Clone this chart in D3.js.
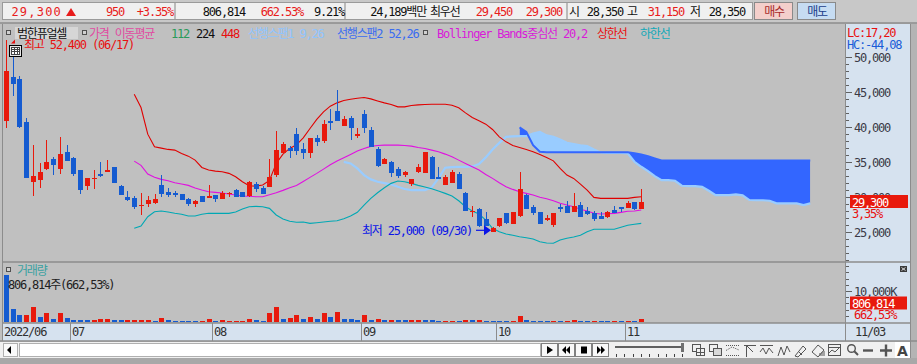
<!DOCTYPE html>
<html><head><meta charset="utf-8">
<script src="https://cdn.jsdelivr.net/npm/d3@7"></script>
<style>
html,body{margin:0;padding:0;background:#c0c0c0;overflow:hidden}
svg{display:block}
text{font-family:'DejaVu Sans Mono','Noto Sans CJK KR',monospace;font-size:12px;letter-spacing:-1.2px}
</style></head><body>
<svg id="c" width="917" height="364"></svg>
<script>
// ---------------- DATA ----------------
const stockName = "범한퓨얼셀";
const dates = ["06/17","06/20","06/21","06/22","06/23","06/24","06/27","06/28","06/29","06/30",
"07/01","07/04","07/05","07/06","07/07","07/08","07/11","07/12","07/13","07/14","07/15","07/18","07/19","07/20","07/21","07/22","07/25","07/26","07/27","07/28","07/29",
"08/01","08/02","08/03","08/04","08/05","08/08","08/09","08/10","08/11","08/12","08/16","08/17","08/18","08/19","08/22","08/23","08/24","08/25","08/26","08/29","08/30","08/31",
"09/01","09/02","09/05","09/06","09/07","09/08","09/13","09/14","09/15","09/16","09/19","09/20","09/21","09/22","09/23","09/26","09/27","09/28","09/29","09/30",
"10/04","10/05","10/06","10/07","10/11","10/12","10/13","10/14","10/17","10/18","10/19","10/20","10/21","10/24","10/25","10/26","10/27","10/28","10/31",
"11/01","11/02","11/03"];
const monthLabels = ["2022/06","07","08","09","10","11"];

const openP = [40900,47200,46870,40730,32220,32460,34030,35460,34030,36450,
35600,33880,31650,32560,33320,33600,34320,31650,30080,29890,
28790,29080,29220,31750,30750,30650,30460,29750,29080,30180,
29940,30360,29790,30560,31000,30750,30180,31890,31360,31500,
33170,36360,37030,39020,36930,36360,38410,38070,40920,42350,
40210,41400,38740,41880,39590,36840,34790,35070,34070,33170,
31890,33560,33500,35700,32850,31790,32080,33320,30650,28000,
28320,26850,25000,25900,27710,26180,27370,30320,28650,27940,
26750,26040,28650,28750,27940,28890,28040,27710,27330,27140,
28180,28560,28470,29320,28350];
const highP = [52400,50000,47340,41350,37450,34930,38160,35740,38590,37450,
35780,33880,32750,33880,35030,35310,34320,31800,30890,30180,
30610,30220,30460,33170,31320,30890,30460,29940,29610,30180,
31750,30360,30850,30750,31220,30750,32280,32180,31600,35500,
39450,37880,37310,39830,37690,38410,38880,41020,42550,45300,
41590,41590,39830,42450,40060,37120,35550,35210,34270,33750,
32600,34740,36450,35930,34270,33130,33890,33560,30790,28790,
28420,27940,25800,27080,27800,27850,33560,30460,28890,27940,
27470,27800,29040,29470,30650,29320,28610,28040,27850,28040,
28750,28650,29470,29320,31150];
const lowP = [39900,44440,39920,32790,30220,31360,33890,33170,33320,35210,
33030,30510,31080,31220,32930,33600,32080,30360,29510,28370,
27510,28650,29080,30080,30040,30080,29560,28790,28650,29370,
29940,29370,29790,30080,30080,30080,30080,30710,30510,31500,
32930,36130,35640,36070,35410,35550,37310,37780,39590,40920,
40210,38170,38410,39210,37120,34360,34700,32850,32700,32850,
31600,33420,33500,32650,32560,31700,32080,31220,28040,27230,
25800,25900,25000,25800,26140,26180,27230,28320,27470,26180,
26660,25800,27940,27800,27940,27230,27510,26660,26940,27040,
27710,27940,28470,28180,28350];
const closeP = [48000,46150,40060,32790,33030,33600,35030,34640,36170,35210,
33320,31080,32750,32790,33030,33930,32080,30360,29650,28650,
28940,29610,29750,30510,30360,30360,29560,29040,29510,29370,
30140,29750,30560,30650,30080,30080,32180,31220,30510,32930,
36740,37600,36600,36560,36360,38410,37930,40450,40630,40920,
41120,39920,39020,39840,37210,34460,35460,33500,33070,33560,
32600,34270,36450,32650,32560,32930,33560,31220,28040,28100,
25940,25900,25650,27000,26280,27850,31180,28320,27800,26180,
27080,27800,28370,27800,28750,27230,27610,26940,26940,27850,
27710,28370,29220,28350,29300];

const volume = [15060000,4190000,2260000,2290000,4840000,1610000,2900000,970000,2900000,1290000,
650000,640000,620000,660000,960000,980000,650000,630000,650000,660000,
670000,680000,330000,1300000,640000,320000,310000,300000,290000,340000,
960000,330000,640000,330000,340000,350000,960000,640000,320000,2900000,
4840000,970000,1290000,2260000,970000,1610000,970000,2900000,1610000,3230000,
970000,960000,640000,2260000,640000,970000,640000,650000,640000,630000,
650000,660000,650000,640000,320000,330000,340000,330000,640000,630000,
650000,320000,310000,300000,290000,310000,1940000,640000,320000,310000,
300000,310000,300000,310000,640000,320000,310000,320000,310000,300000,
310000,300000,310000,121780,806814];
const volumeUp = [0,0,0,1,1,0,1,0,1,0, 0,0,0,1,1,1,0,0,1,1, 1,1,0,1,0,0,0,0,0,1,
1,0,1,1,1,1,1,0,0,1, 1,0,1,1,0,1,0,1,0,1, 0,0,0,1,0,1,0,1,0,0,
1,1,0,0,0,1,1,0,1,0, 1,0,0,0,0,1,1,0,0,0, 0,1,0,1,1,0,0,1,0,0, 1,0,1,0,1];

const bbStart = 19;
const bbUpper = [44730,42830,39020,37210,37030,36840,36740,36270,35880,35310,
34270,33890,33740,33640,33420,32930,32220,31650,31600,31750,
32400,34840,36170,36980,37500,38500,39830,41120,42200,43020,
43490,43830,44010,44160,44260,44060,43770,43490,43260,42920,
42920,43120,43210,43260,43300,43300,43300,43160,42780,42060,
41400,40920,40450,39690,38640,37920,37410,37120,36840,36500,
36130,35700,35210,34130,33170,32700,31890,31030,29990,29850,
29850,29850,29850,29850,29990,30080];
const bbMiddle = [35170,34560,33320,32850,32560,32360,32080,31890,31700,31320,
31030,30790,30710,30610,30460,30320,30180,30140,30080,30080,
30360,30650,30990,31360,31700,32270,32850,33420,34030,34640,
35170,35640,36130,36600,36980,37270,37410,37450,37450,37450,
37410,37310,37120,36980,36740,36500,36170,35780,35310,34840,
34360,33890,33270,32700,32080,31500,31130,30790,30560,30320,
30000,29800,29500,29140,28890,28650,28280,28040,27710,27610,
27650,27710,27850,28000,28040,28180];
const bbLower = [25570,25900,27230,27940,28040,27900,27710,27570,27330,27330,
27570,27710,27710,27710,27710,27900,28320,28650,28700,28650,
28420,27470,26900,26570,26430,26470,26280,26370,26470,26570,
26660,26940,27330,27850,28890,29850,30650,31360,31990,32320,
32220,31990,31700,31460,31220,30890,30560,30180,29510,28650,
28040,27610,26750,25570,25090,24760,24570,24370,24230,24040,
23660,23480,23430,23900,24140,24330,24570,25090,25430,25430,
25430,25430,25710,26000,26140,26280];

const span1Start = 50;
const span1 = [35070,34840,34130,33170,32560,32220,32030,31850,31500,31180,
31030,31030,31030,31420,32700,34220,34320,34360,34360,34410,
34740,35700,36840,37780,38640,38690,38740,38740,39120,39330,
38840,38640,38270,37780,37600,37410,37310,36840,36410,36360,
36360,36360,36270,35070,34360,33740,33030,32460,32460,32360,
31650,31600,31600,31500,30930,30320,30320,30320,30420,30280,
29610,29580,29580,29510,29140,29140,29140,29140,28890,29140];
const span2Start = 76;
const span2 = [39980,39350,37450,36500,36450,36450,36450,36450,36450,36450,
36450,36450,36450,36450,36450,36450,36450,36300,36130,35880,
35560,35250,35250,35250,35250,35250,35250,35250,35250,35250,
35250,35250,35250,35250,35250,35250,35250,35250,35250,35250,
35250,35250,35250,35250];

const priceTicks = [50000,45000,40000,35000,30000,25000];
const volumeTicks = [10000000];
const legendItems = [
  {t:"가격 이동평균", c:"#e04aa0", x:89},
  {t:"112", c:"#2a9a5a", x:171},
  {t:"224", c:"#101010", x:196},
  {t:"448", c:"#e81010", x:221},
  {t:"선행스팬1 9,26", c:"#8fc4ff", x:248},
  {t:"선행스팬2 52,26", c:"#3a6cf0", x:337},
  {t:"Bollinger Bands중심선 20,2", c:"#d81ad8", x:437},
  {t:"상한선", c:"#e81010", x:597},
  {t:"하한선", c:"#10a8b8", x:640}
];
const lcText = "LC:17,20", hcText = "HC:-44,08";
const volPctText = "662,53%";
const quoteExtra = {volPct:"662.53%", turnover:"9.21%", amount:"24,189백만", ask:"29,450", bid:"29,300"};

(function draw() {
// ---------------- SETUP ----------------
const RED = "#e8190c", BLUE = "#155bd0";
const svg = d3.select("#c");
const n = dates.length;
const x = d3.scaleLinear().domain([0, n - 1]).range([5.8, 5.8 + (n - 1) * 6.76]);
const y = d3.scaleLinear().domain([25000, 45000]).range([232.3, 92.3]);
const yv = d3.scaleLinear().domain([0, 10000000]).range([322, 291]);
const fmt = d3.format(",");
const cxOf = i => Math.round(x(i));

const PL = 2, PR = 845, PT = 24, PB = 262, VB = 323, XB = 341;

svg.append("rect").attr("x",0).attr("y",0).attr("width",917).attr("height",364).attr("fill","#c0c0c0");
svg.append("rect").attr("x",PR).attr("y",PT).attr("width",910-PR).attr("height",VB-PT).attr("fill","#d6e2ef");
svg.append("rect").attr("x",PL).attr("y",VB).attr("width",910-PL).attr("height",XB-VB).attr("fill","#d6e2ef");
svg.append("rect").attr("x",910).attr("y",PT).attr("width",7).attr("height",340).attr("fill","#b4b4b4");

// top bar
const bar = svg.append("g");
bar.append("rect").attr("x",0).attr("y",0).attr("width",917).attr("height",23).attr("fill","#c8c8c8");
bar.append("rect").attr("x",2.5).attr("y",2.5).attr("width",750).attr("height",17).attr("fill","#f0f0f0").attr("stroke","#9a9a9a");
[175,345,567].forEach(v => bar.append("line").attr("x1",v).attr("x2",v).attr("y1",3).attr("y2",19).attr("stroke","#a8a8a8").attr("stroke-width",1.5));
bar.append("rect").attr("x",754.5).attr("y",2.5).attr("width",38).attr("height",17).attr("fill","#f4cfcb").attr("stroke","#8a8a8a");
bar.append("rect").attr("x",797.5).attr("y",2.5).attr("width",38).attr("height",17).attr("fill","#c6dcf2").attr("stroke","#8a8a8a");
bar.append("line").attr("x1",0).attr("x2",917).attr("y1",23).attr("y2",23).attr("stroke","#8c8c8c").attr("stroke-width",1.5);

const last = n - 1;
const chg = closeP[last] - closeP[last - 1];
const pct = chg / closeP[last - 1] * 100;
function tt(g, txt, xx, yy, col, anchor, extra) {
  const t = g.append("text").attr("x",xx).attr("y",yy).attr("fill",col).attr("text-anchor",anchor||"start").text(txt);
  if (extra) extra(t);
  return t;
}
const TB = 15.5;
tt(bar, fmt(closeP[last]), 62, TB, "#e81c1c", "end", t => t.style("letter-spacing","1.2px"));
bar.append("path").attr("d","M66,16 L76,16 L71,8 Z").attr("fill","#e81c1c");
tt(bar, fmt(chg), 124, TB, "#e81c1c", "end");
tt(bar, "+" + pct.toFixed(2) + "%", 173, TB, "#e81c1c", "end");
tt(bar, fmt(volume[last]), 245, TB, "#101010", "end");
tt(bar, quoteExtra.volPct, 303, TB, "#e81c1c", "end");
tt(bar, quoteExtra.turnover, 344, TB, "#101010", "end");
tt(bar, quoteExtra.amount, 426, TB, "#101010", "end");
tt(bar, "최우선", 430, TB, "#101010");
tt(bar, quoteExtra.ask, 512, TB, "#e81c1c", "end");
tt(bar, quoteExtra.bid, 562, TB, "#e81c1c", "end");
tt(bar, "시", 569, TB, "#101010");
tt(bar, fmt(openP[last]), 623, TB, "#101010", "end");
tt(bar, "고", 627, TB, "#101010");
tt(bar, fmt(highP[last]), 684, TB, "#e81c1c", "end");
tt(bar, "저", 690, TB, "#101010");
tt(bar, fmt(lowP[last]), 745, TB, "#101010", "end");
tt(bar, "매수", 774, TB, "#a82a2a", "middle");
tt(bar, "매도", 817, TB, "#203c8a", "middle");

// frames
const fr = svg.append("g").attr("stroke","#8c8c8c").attr("fill","none");
fr.append("line").attr("x1",PL+0.5).attr("x2",PL+0.5).attr("y1",PT).attr("y2",XB);
fr.append("line").attr("x1",PR+0.5).attr("x2",PR+0.5).attr("y1",PT).attr("y2",XB);
fr.append("line").attr("x1",910.5).attr("x2",910.5).attr("y1",PT).attr("y2",358);
fr.append("line").attr("x1",PL).attr("x2",911).attr("y1",PB).attr("y2",PB).attr("stroke-width",1.5);
fr.append("line").attr("x1",PL).attr("x2",911).attr("y1",VB).attr("y2",VB).attr("stroke-width",1.5);
fr.append("line").attr("x1",0).attr("x2",917).attr("y1",XB).attr("y2",XB).attr("stroke-width",1.5);

const defs = svg.append("defs");
defs.append("clipPath").attr("id","plot").append("rect").attr("x",PL+1).attr("y",PT).attr("width",PR-PL-1).attr("height",PB-PT);
const plot = svg.append("g").attr("clip-path","url(#plot)");

// ---------------- ICHIMOKU CLOUD ----------------
const cloud = span2.map((v,k) => ({i: span2Start + k, a: span1[span2Start + k - span1Start], b: v}));
defs.append("clipPath").attr("id","abv").append("path")
  .attr("d", d3.area().x(d => x(d.i)).y0(PT).y1(d => y(d.b))(cloud));
defs.append("clipPath").attr("id","blw").append("path")
  .attr("d", d3.area().x(d => x(d.i)).y0(PB).y1(d => y(d.b))(cloud));
const between = d3.area().x(d => x(d.i)).y0(d => y(d.b)).y1(d => y(d.a));
plot.append("g").attr("clip-path","url(#abv)").append("path").attr("d", between(cloud)).attr("fill","#99ccff");
plot.append("g").attr("clip-path","url(#blw)").append("path").attr("d", between(cloud)).attr("fill","#3366ff");
const ln = d3.line().x(d => x(d.i)).y(d => y(d.v));
plot.append("path").attr("d", ln(span1.map((v,k)=>({i:span1Start+k, v}))))
  .attr("fill","none").attr("stroke","#99ccff").attr("stroke-width",2.2);
plot.append("path").attr("d", ln(span2.map((v,k)=>({i:span2Start+k, v}))))
  .attr("fill","none").attr("stroke","#3366ff").attr("stroke-width",2);

// ---------------- BOLLINGER ----------------
[[bbUpper,"#e00000"],[bbMiddle,"#e010e0"],[bbLower,"#00a8b4"]].forEach(([arr,col]) => {
  plot.append("path").attr("d", ln(arr.map((v,k)=>({i:bbStart+k, v}))))
    .attr("fill","none").attr("stroke",col).attr("stroke-width",1.1);
});

// ---------------- CANDLES ----------------
const cg = plot.append("g").attr("shape-rendering","crispEdges");
dates.forEach((d,i) => {
  const col = closeP[i] >= openP[i] ? RED : BLUE;
  const cx = cxOf(i);
  const yh = Math.round(y(highP[i])), yl = Math.round(y(lowP[i]));
  cg.append("rect").attr("x",cx).attr("y",yh).attr("width",1).attr("height",Math.max(1,yl-yh)).attr("fill",col);
  const t = Math.round(y(Math.max(openP[i],closeP[i]))), b = Math.round(y(Math.min(openP[i],closeP[i])));
  cg.append("rect").attr("x",cx-2).attr("y",t).attr("width",5).attr("height",Math.max(1,b-t)).attr("fill",col);
});

// ---------------- ANNOTATIONS ----------------
const iMax = d3.maxIndex(highP), iMin = d3.minIndex(lowP);
const mx = cxOf(iMax), my = y(highP[iMax]);
svg.append("path").attr("d",`M${mx+5},${my+3} L${mx+9},${my-1} L${mx+9},${my+3} Z`).attr("fill","#e81010");
tt(svg, "최고 " + fmt(highP[iMax]) + " (" + dates[iMax] + ")", 24, 48.5, "#e81010");
const ic = svg.append("g").attr("shape-rendering","crispEdges");
ic.append("rect").attr("x",9.5).attr("y",45.5).attr("width",12).attr("height",11).attr("fill","#e8e8e8").attr("stroke","#000");
ic.append("rect").attr("x",11.5).attr("y",47.5).attr("width",8).attr("height",7).attr("fill","#fff").attr("stroke","#444");
[14.5,17.5].forEach(v=>ic.append("line").attr("x1",v).attr("x2",v).attr("y1",48).attr("y2",54).attr("stroke","#444"));
[49.5,51.5].forEach(v=>ic.append("line").attr("x1",12).attr("x2",19).attr("y1",v).attr("y2",v).attr("stroke","#444"));

const nx = cxOf(iMin) - 2, ny = y(lowP[iMin]) - 2;
svg.append("line").attr("x1",nx-15).attr("x2",nx-5).attr("y1",ny).attr("y2",ny).attr("stroke","#0a14e6").attr("stroke-width",1.2);
svg.append("path").attr("d",`M${nx},${ny} L${nx-7},${ny-5} L${nx-7},${ny+5} Z`).attr("fill","#0a14e6");
tt(svg, "최저 " + fmt(lowP[iMin]) + " (" + dates[iMin] + ")", nx-19, ny+4.5, "#0a14e6", "end");

// ---------------- LEGEND ----------------
function sq(xx, yy) {
  svg.append("rect").attr("x",xx+0.5).attr("y",yy+0.5).attr("width",4).attr("height",4)
    .attr("fill","#d0d0d0").attr("stroke","#505050").attr("shape-rendering","crispEdges");
}
sq(6,30); sq(82,30); sq(423,30);
svg.append("rect").attr("x",15).attr("y",27).attr("width",63).attr("height",12).attr("fill","#d6d6d6");
tt(svg, stockName, 17, 37.5, "#101010");
legendItems.forEach(d => tt(svg, d.t, d.x, 37.5, d.c));

// ---------------- PRICE AXIS ----------------
const ax = svg.append("g").attr("shape-rendering","crispEdges");
d3.range(21000, 50001, 1000).forEach(v => {
  const yy = Math.round(y(v)) + 0.5;
  const major = v % 5000 === 0;
  ax.append("line").attr("x1",846).attr("x2",major?852:849).attr("y1",yy).attr("y2",yy).attr("stroke","#606060");
});
priceTicks.forEach(v => tt(svg, fmt(v), 854, y(v) + 4.5, "#3a3a46"));
tt(svg, lcText, 847, 36.5, "#e81010");
tt(svg, hcText, 847, 49, "#1a5cd8");
const pc = y(closeP[last]);
svg.append("rect").attr("x",850).attr("y",Math.round(pc)-7).attr("width",58).attr("height",13).attr("fill","#e8190c");
tt(svg, fmt(closeP[last]), 852, pc + 4.5, "#ffffff");
tt(svg, pct.toFixed(2).replace(".", ",") + "%", 852, pc + 16, "#e81010");

// ---------------- VOLUME ----------------
const vg = svg.append("g").attr("shape-rendering","crispEdges");
volume.forEach((v,i) => {
  const cx = cxOf(i);
  const t = Math.round(yv(v));
  const h = Math.max(1, 322 - t);
  vg.append("rect").attr("x",cx-2).attr("y",322-h).attr("width",5).attr("height",h).attr("fill", volumeUp[i] ? RED : BLUE);
});
sq(6,267);
tt(svg, "거래량", 17, 274.5, "#3aa0a0");
tt(svg, fmt(volume[last]) + "주(" + volPctText + ")", 8, 288.5, "#202020");
d3.range(2000000, 18000001, 2000000).forEach(v => {
  const yy = Math.round(yv(v)) + 0.5;
  const major = volumeTicks.includes(v);
  ax.append("line").attr("x1",846).attr("x2",major?852:849).attr("y1",yy).attr("y2",yy).attr("stroke","#606060");
});
volumeTicks.forEach(v => tt(svg, fmt(v/1000) + "K", 854, yv(v) + 4.5, "#3a3a46"));
const vc = yv(volume[last]) - 16;
svg.append("rect").attr("x",850).attr("y",Math.round(vc)-6.5).attr("width",57).attr("height",13).attr("fill","#e8190c");
tt(svg, fmt(volume[last]), 852, vc + 4.5, "#ffffff");
tt(svg, volPctText, 854, vc + 16, "#e81010");
svg.append("rect").attr("x",900).attr("y",266).attr("width",7).attr("height",6).attr("fill","#3a3a3a");
svg.append("path").attr("d","M901.5,267.5 L905.5,270.5 M905.5,267.5 L901.5,270.5").attr("stroke","#fff").attr("stroke-width",0.8);

// ---------------- X AXIS ----------------
const monthStarts = [];
dates.forEach((d,i) => { if (i === 0 || d.slice(0,2) !== dates[i-1].slice(0,2)) monthStarts.push(i); });
monthStarts.forEach((i,k) => {
  if (k === 0) { tt(svg, monthLabels[k], 4, 336, "#303030"); return; }
  const dx = cxOf(i) - 3 + 0.5;
  svg.append("line").attr("x1",dx).attr("x2",dx).attr("y1",VB).attr("y2",XB).attr("stroke","#8c8c8c").attr("shape-rendering","crispEdges");
  tt(svg, monthLabels[k], dx + 1.5, 336, "#303030");
});
tt(svg, dates[last], 855, 336, "#303030");

// ---------------- TOOLBAR ----------------
const tb = svg.append("g").attr("shape-rendering","crispEdges");
tb.append("rect").attr("x",0).attr("y",342).attr("width",910).attr("height",16).attr("fill","#f0f0f0");
tb.append("rect").attr("x",0).attr("y",358).attr("width",917).attr("height",6).attr("fill","#a8a8a8");
tb.append("rect").attr("x",3.5).attr("y",343.5).attr("width",14).attr("height",13).attr("fill","#fafafa").attr("stroke","#b0b0b0");
tb.append("path").attr("d","M7,350 L11,346 L11,354 Z").attr("fill","#000").attr("shape-rendering","auto");
tb.append("rect").attr("x",19.5).attr("y",343.5).attr("width",521).attr("height",13).attr("fill","#ffffff").attr("stroke","#b0b0b0");
[541.5,558.5,575.5,592.5].forEach(v => tb.append("rect").attr("x",v).attr("y",343.5).attr("width",16).attr("height",13).attr("fill","#f8f8f8").attr("stroke","#808080"));
const sym = svg.append("g").attr("fill","#000");
sym.append("path").attr("d","M547,346 L553,350 L547,354 Z");
sym.append("path").attr("d","M566,346 L562,350 L566,354 Z M570,346 L566,350 L570,354 Z");
sym.append("rect").attr("x",581).attr("y",346.5).attr("width",6).attr("height",7);
sym.append("path").attr("d","M597,346 L601,350 L597,354 Z M601,346 L605,350 L601,354 Z");
tb.append("rect").attr("x",615).attr("y",346).attr("width",67).attr("height",2).attr("fill","#606060");
tb.append("rect").attr("x",681).attr("y",343).attr("width",3).attr("height",9).attr("fill","#707070");
d3.range(0,9).forEach(k => tb.append("rect").attr("x",616 + k*8.3).attr("y",354).attr("width",1).attr("height",3).attr("fill","#404040"));
const ig = svg.append("g").attr("stroke","#555").attr("fill","none").attr("stroke-width",1);
ig.append("rect").attr("x",692.5).attr("y",344.5).attr("width",8).attr("height",7);
ig.append("rect").attr("x",696.5).attr("y",348.5).attr("width",8).attr("height",7).attr("fill","#f0f0f0");
ig.append("path").attr("d","M700.5,349 V355 M697,352.5 H704");
ig.append("rect").attr("x",709.5).attr("y",344.5).attr("width",8).attr("height",7);
ig.append("rect").attr("x",713.5).attr("y",348.5).attr("width",8).attr("height",7).attr("fill","#d8d8d8");
ig.append("path").attr("d","M726,345.5 H739 M726,350.5 L732,347 L739,350 M726,355.5 H739").attr("stroke-dasharray","1,1");
ig.append("path").attr("d","M744,345.5 H756 M746.5,345 V357 M747,346 L753,352");
ig.append("path").attr("d","M760,345.5 H773 M760,352 L763,348 L766,354 L769,348 L773,353");
ig.append("path").attr("d","M778,356 L781,347 L784,355 L787,346 L790,352");
ig.append("path").attr("d","M795,356 L803,346 L806,349 L798,357 Z M799,352 L802,355");
ig.append("path").attr("d","M812,352 L818,345 L824,350 L818,357 Z M820,356 V353 M822,356 V352 M824,356 V351");
ig.append("rect").attr("x",828.5).attr("y",344.5).attr("width",12).attr("height",11);
ig.append("path").attr("d","M829,353 L832,350 L835,352 L840,347 M829,347.5 H840");
ig.append("circle").attr("cx",851.5).attr("cy",348.5).attr("r",3.8).attr("stroke-width",1.4);
ig.append("path").attr("d","M854.3,351.3 L858,355").attr("stroke-width",2);
ig.append("path").attr("d","M863,350.5 H873").attr("stroke-width",2.4);
ig.append("path").attr("d","M880,350.5 H892 M886,344.5 V356.5").attr("stroke-width",2.4);
tb.append("rect").attr("x",895).attr("y",342).attr("width",15).attr("height",16).attr("fill","#ffffff");
svg.append("text").attr("x",902.5).attr("y",355.5).attr("text-anchor","middle").attr("fill","#444")
  .style("font-weight","bold").style("font-size","14px").style("letter-spacing","0").style("font-family","'DejaVu Sans',sans-serif").text("A");
})();
</script>
</body></html>
